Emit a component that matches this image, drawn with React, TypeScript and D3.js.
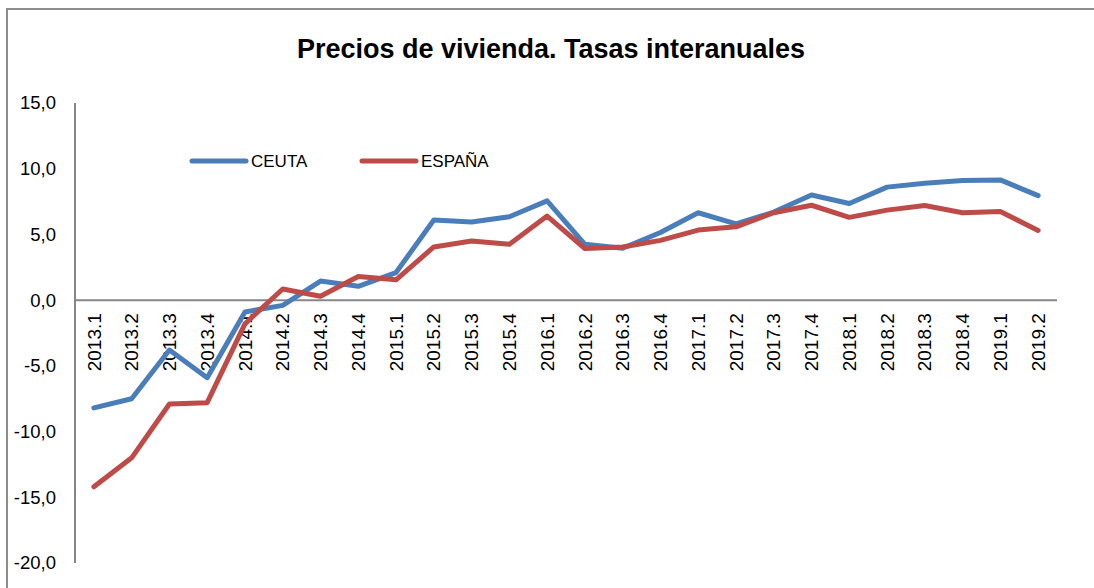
import React from "react";
import * as d3 from "d3";

const categories = [
  "2013.1", "2013.2", "2013.3", "2013.4",
  "2014.1", "2014.2", "2014.3", "2014.4",
  "2015.1", "2015.2", "2015.3", "2015.4",
  "2016.1", "2016.2", "2016.3", "2016.4",
  "2017.1", "2017.2", "2017.3", "2017.4",
  "2018.1", "2018.2", "2018.3", "2018.4",
  "2019.1", "2019.2",
];

const ceuta = [
  -8.2, -7.5, -3.8, -5.9,
  -0.9, -0.4, 1.45, 1.05,
  2.1, 6.1, 5.95, 6.35,
  7.55, 4.25, 3.95, 5.15,
  6.65, 5.8, 6.7, 8.0,
  7.35, 8.6, 8.9, 9.1,
  9.15, 7.95,
];

const espana = [
  -14.2, -12.0, -7.9, -7.8,
  -1.8, 0.85, 0.3, 1.8,
  1.55, 4.05, 4.5, 4.25,
  6.4, 3.93, 4.05, 4.55,
  5.33, 5.58, 6.65, 7.22,
  6.3, 6.85, 7.2, 6.65,
  6.75, 5.3,
];

const yTicks = [15, 10, 5, 0, -5, -10, -15, -20];

const seriesNames = ["CEUTA", "ESPAÑA"];
const seriesColors = ["#4A7EBB", "#BE4B48"];

const W = 1094;
const H = 588;
const plotLeft = 75;
const plotRight = 1057;
const plotTop = 103;
const plotBottom = 563;

export default function App() {
  const x = d3
    .scalePoint<string>()
    .domain(categories)
    .range([plotLeft, plotRight])
    .padding(0.5);
  const y = d3.scaleLinear().domain([-20, 15]).range([plotBottom, plotTop]);

  const line = d3
    .line<number>()
    .x((_, i) => x(categories[i]) as number)
    .y((d) => y(d));

  const series = [ceuta, espana];
  const legendX = [192, 362];
  const legendY = 161;

  const fmt = (v: number) => v.toFixed(1).replace(".", ",");

  return (
    <div style={{ position: "absolute", left: 0, top: 0 }}>
      <svg width={W} height={H} style={{ display: "block" }}>
        <rect x={0} y={0} width={W} height={H} fill="#ffffff" />
        <rect
          x={7}
          y={9}
          width={W + 20}
          height={H + 20}
          fill="none"
          stroke="#8c8c8c"
          strokeWidth={2}
        />
        <text
          x={551}
          y={58}
          textAnchor="middle"
          fontFamily="'Liberation Sans', Arial, sans-serif"
          fontWeight="bold"
          fontSize={27}
          fill="#000"
        >
          Precios de vivienda. Tasas interanuales
        </text>

        {/* y axis */}
        <line
          x1={plotLeft}
          x2={plotLeft}
          y1={y(15)}
          y2={y(-20)}
          stroke="#868686"
          strokeWidth={2}
        />
        {yTicks.map((t) => (
          <text
            key={t}
            x={56}
            y={y(t)}
            dy="0.35em"
            textAnchor="end"
            fontFamily="'Liberation Sans', Arial, sans-serif"
            fontSize={18.5}
            fill="#000"
          >
            {fmt(t)}
          </text>
        ))}

        {/* x axis at 0 */}
        <line
          x1={plotLeft}
          x2={plotRight}
          y1={y(0)}
          y2={y(0)}
          stroke="#868686"
          strokeWidth={2}
        />
        {categories.map((c) => (
          <text
            key={c}
            transform={`translate(${x(c)},${y(0) + 13}) rotate(-90)`}
            dy="0.35em"
            textAnchor="end"
            fontFamily="'Liberation Sans', Arial, sans-serif"
            fontSize={19}
            fill="#000"
          >
            {c}
          </text>
        ))}

        {series.map((s, i) => (
          <path
            key={seriesNames[i]}
            d={line(s) || ""}
            fill="none"
            stroke={seriesColors[i]}
            strokeWidth={5}
            strokeLinejoin="round"
            strokeLinecap="round"
          />
        ))}

        {seriesNames.map((n, i) => (
          <g key={n}>
            <line
              x1={legendX[i]}
              x2={legendX[i] + 54}
              y1={legendY}
              y2={legendY}
              stroke={seriesColors[i]}
              strokeWidth={5}
              strokeLinecap="round"
            />
            <text
              x={legendX[i] + 59}
              y={legendY}
              dy="0.35em"
              fontFamily="'Liberation Sans', Arial, sans-serif"
              fontSize={17}
              fill="#000"
            >
              {n}
            </text>
          </g>
        ))}
      </svg>
    </div>
  );
}
